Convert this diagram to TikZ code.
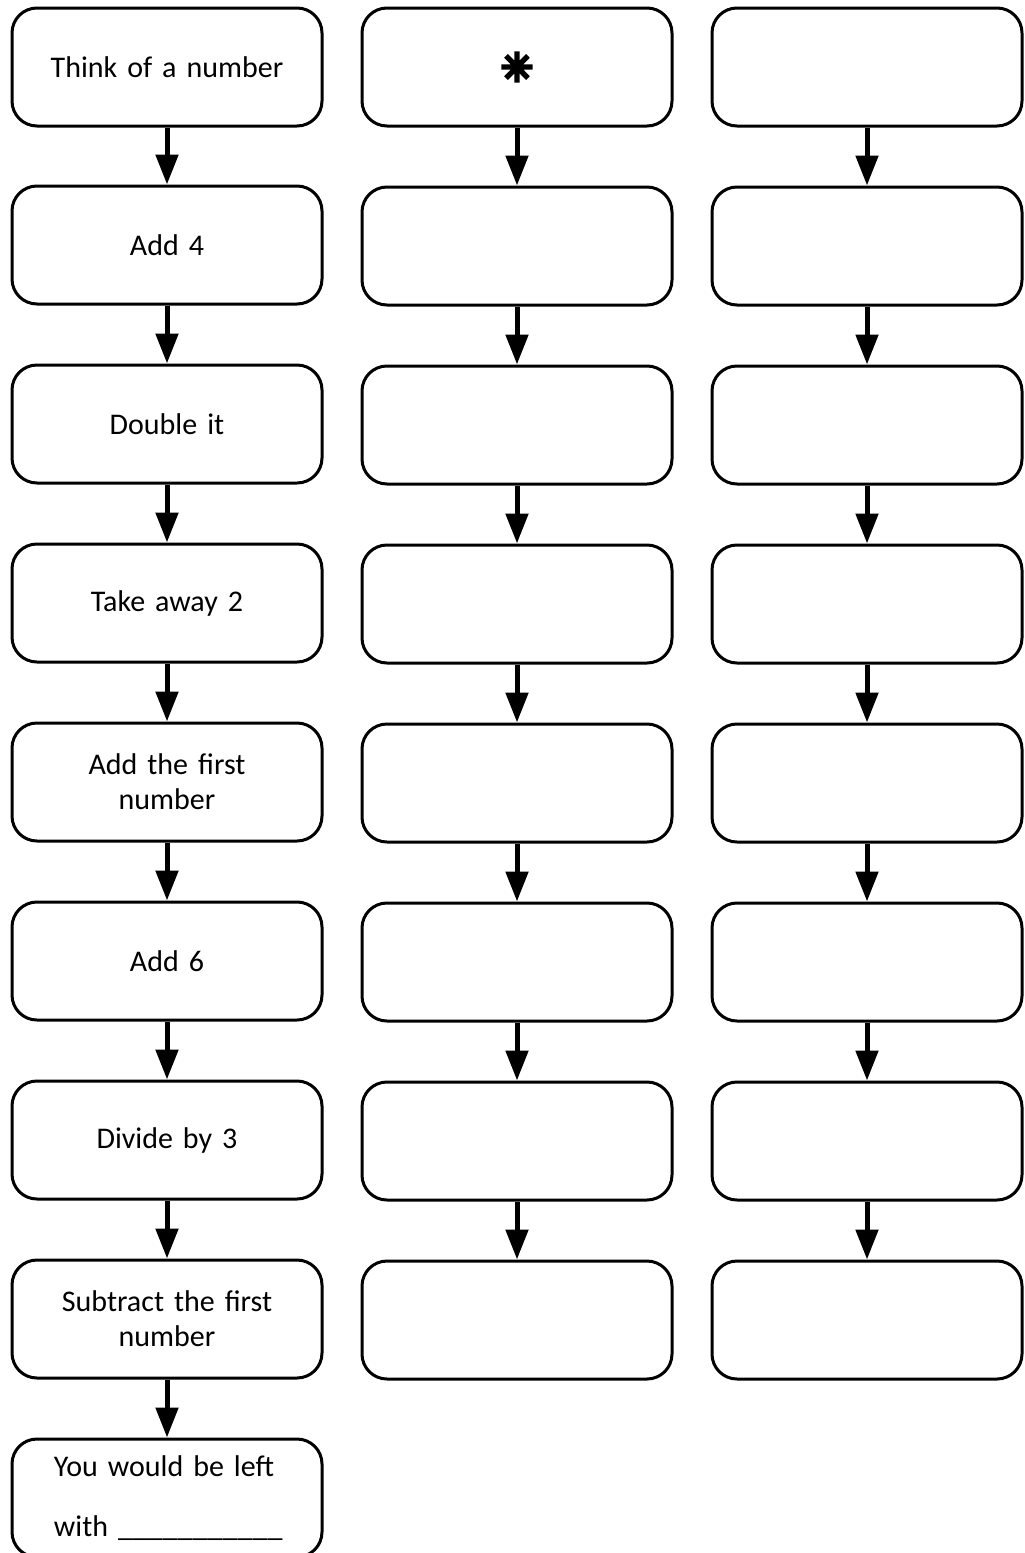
\documentclass[tikz,border=0pt]{standalone}
\usepackage{fontspec}
\setmainfont{Carlito}
\newfontfamily\symfont{DejaVu Sans}[FakeBold=9]
\usepackage{tikz}
\usetikzlibrary{positioning,arrows.meta}

\begin{document}
\begin{tikzpicture}[
  x=0.5pt, y=-0.5pt,
  stepbox/.style={draw, rounded corners=12.5pt, line width=1.5pt, minimum width=155pt, minimum height=59pt, text width=145pt, align=center, font=\fontsize{15}{17.5}\selectfont},
  arr/.style={-{Triangle[width=11pt, length=15pt]}, line width=2.5pt}
]
\useasboundingbox (0,0) rectangle (1024,1553);
\clip (0,0) rectangle (1024,1553);

% left column: the steps
\node[stepbox] (think) at (167, 67) {Think of a number};
\node[stepbox] (addfour) at (167, 245) {Add 4};
\node[stepbox] (double) at (167, 424) {Double it};
\node[stepbox] (takeaway) at (167, 603) {Take away 2};
\node[stepbox] (addfirst) at (167, 782) {Add the first\\number};
\node[stepbox] (addsix) at (167, 961) {Add 6};
\node[stepbox] (divide) at (167, 1140) {Divide by 3};
\node[stepbox] (subtract) at (167, 1319) {Subtract the first\\number};
\node[stepbox, align=left, text width=113pt, font=\fontsize{15}{30}\selectfont] (leftwith) at (167, 1498) {You would be left\\with~\_\_\_\_\_\_\_\_\_\_\_};

\draw[arr] (think.south) -- (addfour.north);
\draw[arr] (addfour.south) -- (double.north);
\draw[arr] (double.south) -- (takeaway.north);
\draw[arr] (takeaway.south) -- (addfirst.north);
\draw[arr] (addfirst.south) -- (addsix.north);
\draw[arr] (addsix.south) -- (divide.north);
\draw[arr] (divide.south) -- (subtract.north);
\draw[arr] (subtract.south) -- (leftwith.north);

% middle and right columns: empty boxes to fill in
\node[stepbox] (mid1) at (517, 67) {\symfont\fontsize{19}{19}\selectfont ✳};
\node[stepbox] (right1) at (867, 67) {};
\foreach \r [count=\p from 1] in {2,...,8} {
  \node[stepbox] (mid\r) at (517, {67+179*(\r-1)}) {};
  \node[stepbox] (right\r) at (867, {67+179*(\r-1)}) {};
  \draw[arr] (mid\p.south) -- (mid\r.north);
  \draw[arr] (right\p.south) -- (right\r.north);
}

\end{tikzpicture}
\end{document}
